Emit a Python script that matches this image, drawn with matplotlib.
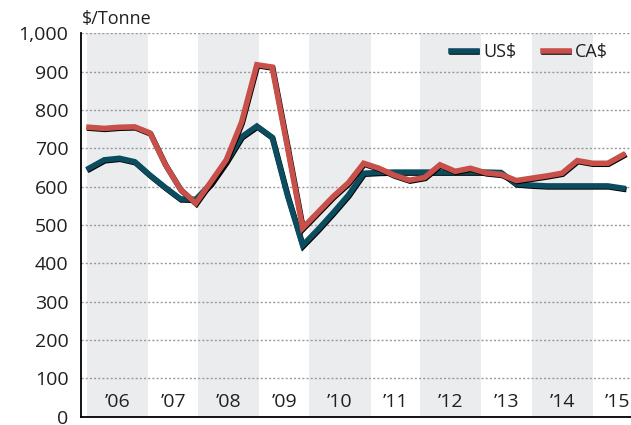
# Preco por tonelada, US$ x CA$ (trimestral 2006-2014)

import matplotlib
matplotlib.use('Agg')
import matplotlib.pyplot as plt
import matplotlib.patheffects as pe

plt.rcParams['font.family'] = ['Open Sans', 'DejaVu Sans']

# data (quarterly, 2006 Q1 .. 2014 Q4)
us = [648, 670, 674, 665, 630, 598, 568, 567, 608, 665,
      730, 758, 729, 578, 447, 488, 532, 578, 635, 637,
      638, 638, 638, 638, 638, 638, 638, 637, 607, 604,
      602, 602, 602, 602, 602, 596]
ca = [755, 752, 755, 756, 740, 658, 593, 557, 613, 670,
      768, 918, 912, 705, 492, 533, 574, 610, 661, 648,
      630, 617, 624, 657, 640, 648, 636, 632, 616, 622,
      628, 635, 668, 661, 661, 683]
quarters = list(range(len(us)))

# year labels and where they sit on the quarter axis
years = ['\u201906', '\u201907', '\u201908', '\u201909', '\u201910',
         '\u201911', '\u201912', '\u201913', '\u201914', '\u201915']
year_pos = [1.90, 5.54, 9.17, 12.81, 16.45, 20.09, 23.72, 27.36, 31.00, 34.64]

teal = '#0b4c5f'
red = '#c8504b'
txt = '#231f20'

fig = plt.figure(figsize = (6.31, 4.25), dpi = 100)
ax = fig.add_axes([0.1284, 0.0195, 0.8716, 0.9021])

# alternating year bands
for p in year_pos[::2]:
    ax.axvspan(p - 2.0, p + 2.0, color = '#ebeced', lw = 0, zorder = 0.2)

shadow = [pe.SimpleLineShadow(offset = (0.5, -0.7), shadow_color = 'black', alpha = 1),
          pe.Normal()]

ax.plot(quarters, us, color = teal, lw = 4.0, label = 'US$',
        solid_joinstyle = 'miter', path_effects = shadow, zorder = 3)
ax.plot(quarters, ca, color = red, lw = 4.0, label = 'CA$',
        solid_joinstyle = 'miter', path_effects = shadow, zorder = 4)

ax.set_xlim(-0.52, 35.52)
ax.set_ylim(0, 1000)
ax.set_yticks(range(0, 1001, 100))
ax.set_yticklabels(['{:,}'.format(v) for v in range(0, 1001, 100)])
ax.set_xticks([])
ax.tick_params(axis = 'y', length = 0, pad = 9, labelsize = 14, labelcolor = txt)

ax.set_axisbelow(True)
ax.grid(axis = 'y', color = '#9a9a9a', lw = 1, linestyle = (0, (1.5, 1.5)))

for s in ['top', 'right']:
    ax.spines[s].set_visible(False)
for s in ['left', 'bottom']:
    ax.spines[s].set_color('black')
    ax.spines[s].set_linewidth(1.3)

for lab, p in zip(years, year_pos):
    ax.text(p, 39, lab, ha = 'center', va = 'center', fontsize = 14, color = txt)

fig.text(82 / 631, 1 - 19 / 425, '$/Tonne', ha = 'left', va = 'center',
         fontsize = 13, color = txt)

ax.legend(loc = 'center right', bbox_to_anchor = (0.958, 0.951), ncol = 2,
          frameon = False, fontsize = 13, handlelength = 1.4, handletextpad = 0.35,
          columnspacing = 1.5, borderpad = 0, borderaxespad = 0,
          labelcolor = txt)

fig.savefig('out.png', dpi = 100)
